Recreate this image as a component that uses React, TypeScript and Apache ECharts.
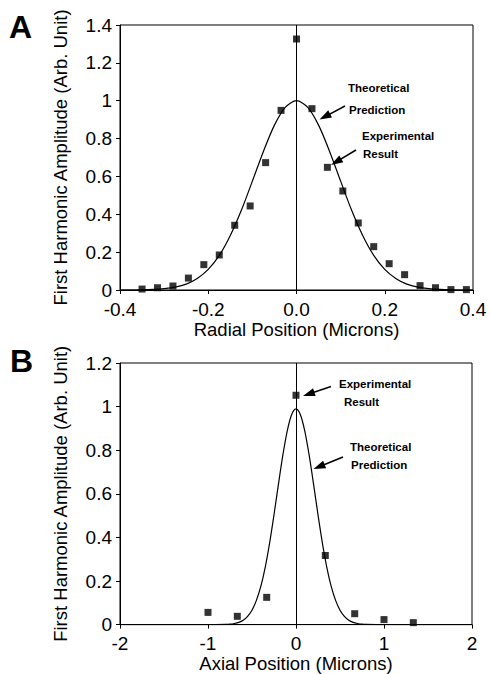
import React, { useEffect, useRef } from "react";
import * as echarts from "echarts";

// Panel A: radial scan
const radialX = [-0.35, -0.315, -0.28, -0.245, -0.21, -0.175, -0.14, -0.105, -0.07, -0.035, 0, 0.035, 0.07, 0.105, 0.14, 0.175, 0.21, 0.245, 0.28, 0.315, 0.35, 0.385];
const radialY = [0.005, 0.012, 0.021, 0.063, 0.134, 0.185, 0.342, 0.444, 0.673, 0.949, 1.326, 0.958, 0.648, 0.523, 0.354, 0.229, 0.139, 0.081, 0.023, 0.012, 0.002, 0.002];
const radialTheoryX = [-0.4, -0.375, -0.35, -0.325, -0.3, -0.275, -0.25, -0.225, -0.2, -0.175, -0.15, -0.125, -0.1, -0.075, -0.05, -0.025, 0, 0.025, 0.05, 0.075, 0.1, 0.125, 0.15, 0.175, 0.2, 0.225, 0.25, 0.275, 0.3, 0.325, 0.35, 0.375, 0.4];
const radialTheoryY = [0, 0, 0.001, 0.003, 0.007, 0.015, 0.031, 0.061, 0.109, 0.183, 0.288, 0.421, 0.575, 0.732, 0.871, 0.966, 1, 0.966, 0.871, 0.732, 0.575, 0.421, 0.288, 0.183, 0.109, 0.061, 0.031, 0.015, 0.007, 0.003, 0.001, 0, 0];
const radialTickLabels = ["-0.4", "-0.2", "0.0", "0.2", "0.4"];

// Panel B: axial scan
const axialX = [-1, -0.667, -0.333, 0, 0.333, 0.667, 1, 1.333];
const axialY = [0.056, 0.038, 0.125, 1.052, 0.317, 0.05, 0.023, 0.009];
const axialTheoryX = [-2, -1, -0.8, -0.75, -0.7, -0.65, -0.6, -0.55, -0.5, -0.45, -0.4, -0.35, -0.3, -0.25, -0.2, -0.15, -0.1, -0.05, 0, 0.05, 0.1, 0.15, 0.2, 0.25, 0.3, 0.35, 0.4, 0.45, 0.5, 0.55, 0.6, 0.65, 0.7, 0.75, 0.8, 1, 2];
const axialTheoryY = [0, 0, 0.001, 0.002, 0.005, 0.01, 0.02, 0.038, 0.066, 0.111, 0.175, 0.263, 0.374, 0.504, 0.643, 0.776, 0.888, 0.963, 0.99, 0.963, 0.888, 0.776, 0.643, 0.504, 0.374, 0.263, 0.175, 0.111, 0.066, 0.038, 0.02, 0.01, 0.005, 0.002, 0.001, 0, 0];

const FONT = "Liberation Sans, Arial, Helvetica, sans-serif";
const TICK_SIZE = 19;

function zip(xs: number[], ys: number[]) {
  return xs.map((x, i) => [x, ys[i]]);
}

function arrow(x1: number, y1: number, x2: number, y2: number) {
  const dx = x2 - x1;
  const dy = y2 - y1;
  const len = Math.hypot(dx, dy);
  const ux = dx / len;
  const uy = dy / len;
  const headLen = 12;
  const headW = 4;
  const bx = x2 - ux * headLen;
  const by = y2 - uy * headLen;
  const px = -uy;
  const py = ux;
  return [
    { type: "line", shape: { x1, y1, x2: bx + ux * 2, y2: by + uy * 2 }, style: { stroke: "#000", lineWidth: 1.5 } },
    {
      type: "polygon",
      shape: { points: [[x2, y2], [bx + px * headW, by + py * headW], [bx - px * headW, by - py * headW]] },
      style: { fill: "#000" },
    },
  ];
}

function note(text: string, x: number, y: number) {
  return {
    type: "text",
    x,
    y,
    style: {
      text,
      fill: "#000",
      font: `bold 11.5px ${FONT}`,
      textAlign: "left",
      textVerticalAlign: "middle",
    },
  };
}

function baseAxis() {
  return {
    axisLine: { show: true, onZero: false, lineStyle: { color: "#000", width: 1 } },
    axisTick: { show: true, inside: false, length: 4, lineStyle: { color: "#000", width: 1 } },
    splitLine: { show: false },
    nameTextStyle: { color: "#000", fontFamily: FONT, fontSize: 18.5, lineHeight: 18 },
  };
}

export default function App() {
  const ref = useRef<HTMLDivElement>(null);
  useEffect(() => {
    const chart = echarts.init(ref.current!, null, { renderer: "svg" });
    const yName = "First Harmonic Amplitude (Arb. Unit)";
    const xLabel = { color: "#000", fontFamily: FONT, fontSize: TICK_SIZE, margin: 11, lineHeight: 16 };
    const yLabel = { color: "#000", fontFamily: FONT, fontSize: TICK_SIZE, margin: 8, lineHeight: 16 };
    const option: any = {
      animation: false,
      backgroundColor: "#fff",
      grid: [
        { left: 120, top: 25, width: 353, height: 265, show: true, borderColor: "#000", borderWidth: 1 },
        { left: 120, top: 363, width: 352, height: 263, show: true, borderColor: "#000", borderWidth: 1 },
      ],
      xAxis: [
        {
          ...baseAxis(),
          type: "value",
          gridIndex: 0,
          position: "bottom",
          min: -0.4,
          max: 0.4,
          interval: 0.2,
          name: "Radial Position (Microns)",
          nameLocation: "middle",
          nameGap: 30,
          axisLabel: { show: false },
        },
        {
          ...baseAxis(),
          type: "value",
          gridIndex: 1,
          position: "bottom",
          min: -2,
          max: 2,
          interval: 1,
          name: "Axial Position (Microns)",
          nameLocation: "middle",
          nameGap: 25,
          axisLabel: { ...xLabel },
        },
        {
          type: "category",
          gridIndex: 0,
          position: "bottom",
          data: radialTickLabels,
          boundaryGap: false,
          axisLine: { show: false },
          axisTick: { show: false },
          splitLine: { show: false },
          axisLabel: { ...xLabel, interval: 0 },
        },
      ],
      yAxis: [
        {
          ...baseAxis(),
          type: "value",
          gridIndex: 0,
          min: 0,
          max: 1.4,
          interval: 0.2,
          name: yName,
          nameLocation: "middle",
          nameGap: 51,
          axisLabel: { ...yLabel },
        },
        {
          ...baseAxis(),
          type: "value",
          gridIndex: 1,
          min: 0,
          max: 1.2,
          interval: 0.2,
          name: yName,
          nameLocation: "middle",
          nameGap: 51,
          axisLabel: { ...yLabel },
        },
      ],
      series: [
        {
          type: "line",
          xAxisIndex: 0,
          yAxisIndex: 0,
          data: zip(radialTheoryX, radialTheoryY),
          showSymbol: false,
          smooth: 0.3,
          lineStyle: { color: "#000", width: 1.2 },
          z: 2,
        },
        {
          type: "scatter",
          xAxisIndex: 0,
          yAxisIndex: 0,
          data: zip(radialX, radialY),
          symbol: "rect",
          symbolSize: 7,
          itemStyle: { color: "#000" },
          z: 3,
          markLine: {
            silent: true,
            symbol: ["none", "none"],
            label: { show: false },
            lineStyle: { color: "#000", width: 1, type: "solid" },
            data: [{ xAxis: 0 }],
          },
        },
        {
          type: "line",
          xAxisIndex: 1,
          yAxisIndex: 1,
          data: zip(axialTheoryX, axialTheoryY),
          showSymbol: false,
          smooth: 0.3,
          lineStyle: { color: "#000", width: 1.2 },
          z: 2,
        },
        {
          type: "scatter",
          xAxisIndex: 1,
          yAxisIndex: 1,
          data: zip(axialX, axialY),
          symbol: "rect",
          symbolSize: 7,
          itemStyle: { color: "#000" },
          z: 3,
          markLine: {
            silent: true,
            symbol: ["none", "none"],
            label: { show: false },
            lineStyle: { color: "#000", width: 1, type: "solid" },
            data: [{ xAxis: 0 }],
          },
        },
      ],
      graphic: [
        { type: "text", x: 9, y: 11, style: { text: "A", fill: "#000", font: `bold 32px ${FONT}` } },
        { type: "text", x: 10, y: 345, style: { text: "B", fill: "#000", font: `bold 32px ${FONT}` } },
        note("Theoretical", 348, 88),
        note("Prediction", 349, 110),
        note("Experimental", 362, 135.5),
        note("Result", 363, 154),
        ...arrow(345, 106, 319.5, 119.5),
        ...arrow(356, 150, 331, 165),
        note("Experimental", 339, 384),
        note("Result", 344, 402),
        note("Theoretical", 350, 447),
        note("Prediction", 351, 465),
        ...arrow(331, 386.5, 303, 396),
        ...arrow(343, 457, 313.5, 469),
      ],
    };
    chart.setOption(option);
    return () => chart.dispose();
  }, []);
  return (
    <div
      ref={ref}
      style={{ position: "fixed", left: 0, top: 0, width: 490, height: 674, background: "#fff" }}
    />
  );
}
